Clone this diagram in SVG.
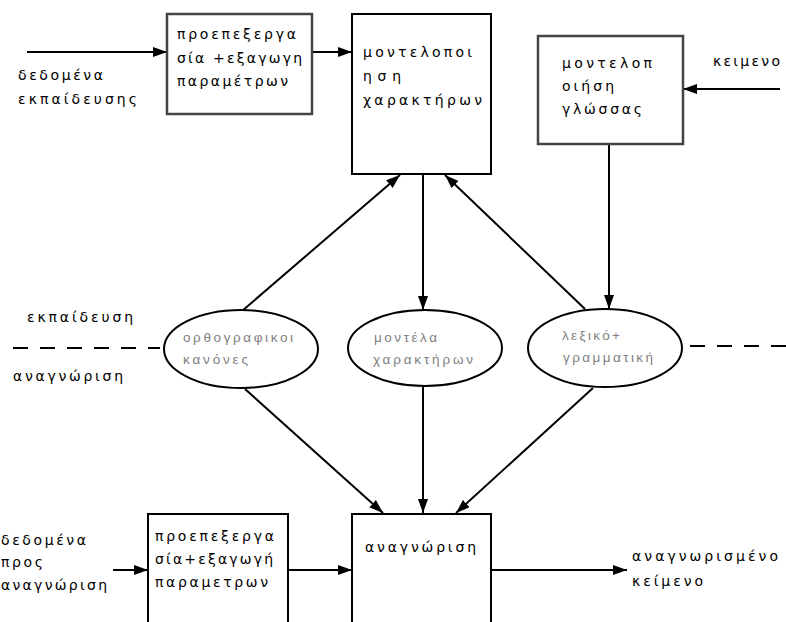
<svg xmlns="http://www.w3.org/2000/svg" width="786" height="622" viewBox="0 0 786 622">
<defs>
<marker id="ah" viewBox="0 0 14 10" refX="14" refY="5" markerWidth="14" markerHeight="10" markerUnits="userSpaceOnUse" orient="auto">
<path d="M0,0 L14,5 L0,10 Z" fill="#000"/>
</marker>
<style>
.t{font-family:"DejaVu Sans","Liberation Sans",sans-serif;font-size:14px;fill:#000}
.e{font-family:"Liberation Sans","DejaVu Sans",sans-serif;font-size:13.5px;fill:#808080}
.b{fill:#fff;stroke:#000;stroke-width:2}
.g{fill:#fff;stroke:#444;stroke-width:2.5}
.el{fill:#fff;stroke:#000;stroke-width:2}
.c{stroke:#000;stroke-width:2;fill:none}
.d{stroke:#000;stroke-width:2;fill:none;stroke-dasharray:15 12}
</style>
</defs>
<rect width="786" height="622" fill="#fff"/>

<g id="connectors">
<line class="c" x1="27" y1="52" x2="167" y2="52" marker-end="url(#ah)"/>
<line class="c" x1="312" y1="52" x2="352" y2="52" marker-end="url(#ah)"/>
<line class="c" x1="780" y1="89" x2="683" y2="89" marker-end="url(#ah)"/>
<line class="c" x1="609" y1="144" x2="609" y2="309" marker-end="url(#ah)"/>
<line class="c" x1="423" y1="174" x2="423" y2="310" marker-end="url(#ah)"/>
<line class="c" x1="242" y1="311" x2="400" y2="175" marker-end="url(#ah)"/>
<line class="c" x1="585" y1="309" x2="445" y2="175" marker-end="url(#ah)"/>
<line class="c" x1="245" y1="389" x2="383" y2="513" marker-end="url(#ah)"/>
<line class="c" x1="423" y1="387" x2="423" y2="513" marker-end="url(#ah)"/>
<line class="c" x1="593" y1="388" x2="456" y2="513" marker-end="url(#ah)"/>
<line class="c" x1="113" y1="570" x2="148" y2="570" marker-end="url(#ah)"/>
<line class="c" x1="288" y1="570" x2="352" y2="570" marker-end="url(#ah)"/>
<line class="c" x1="491" y1="570" x2="627" y2="570" marker-end="url(#ah)"/>
<line class="d" x1="13" y1="348" x2="160" y2="348"/>
<line class="d" x1="690" y1="346" x2="786" y2="346"/>
</g>

<g id="labels">
<text class="t" x="18" y="80" textLength="85" lengthAdjust="spacing">δεδομένα</text>
<text class="t" x="18" y="104" textLength="119" lengthAdjust="spacing">εκπαίδευσης</text>
<text class="t" x="713" y="66" textLength="67" lengthAdjust="spacing">κειμενο</text>
<text class="t" x="27" y="322" textLength="106" lengthAdjust="spacing">εκπαίδευση</text>
<text class="t" x="13" y="381" textLength="110" lengthAdjust="spacing">αναγνώριση</text>
<text class="t" x="1" y="545" textLength="85" lengthAdjust="spacing">δεδομένα</text>
<text class="t" x="1" y="567" textLength="42" lengthAdjust="spacing">προς</text>
<text class="t" x="1" y="590" textLength="106" lengthAdjust="spacing">αναγνώριση</text>
<text class="t" x="632" y="561" textLength="146" lengthAdjust="spacing">αναγνωρισμένο</text>
<text class="t" x="632" y="586" textLength="71" lengthAdjust="spacing">κείμενο</text>
</g>

<g id="preprocess-train">
<rect class="g" x="167" y="14" width="145" height="100"/>
<text class="t" x="177" y="39" textLength="119" lengthAdjust="spacing">προεπεξεργα</text>
<text class="t" x="177" y="63" textLength="125" lengthAdjust="spacing">σία +εξαγωγη</text>
<text class="t" x="177" y="86" textLength="111" lengthAdjust="spacing">παραμέτρων</text>
</g>

<g id="char-modeling">
<rect class="b" x="352" y="14" width="139" height="160"/>
<text class="t" x="363" y="57" textLength="109" lengthAdjust="spacing">μοντελοποι</text>
<text class="t" x="363" y="81" textLength="38" lengthAdjust="spacing">ηση</text>
<text class="t" x="363" y="105" textLength="119" lengthAdjust="spacing">χαρακτήρων</text>
</g>

<g id="lang-modeling">
<rect class="g" x="538" y="36" width="145" height="108"/>
<text class="t" x="562" y="68" textLength="90" lengthAdjust="spacing">μοντελοπ</text>
<text class="t" x="562" y="91" textLength="52" lengthAdjust="spacing">οιήση</text>
<text class="t" x="562" y="114" textLength="80" lengthAdjust="spacing">γλώσσας</text>
</g>

<g id="ortho-rules">
<ellipse class="el" cx="241" cy="349" rx="77" ry="39"/>
<text class="e" x="183" y="342" textLength="110" lengthAdjust="spacing">ορθογραφικοι</text>
<text class="e" x="183" y="364" textLength="65" lengthAdjust="spacing">κανόνες</text>
</g>

<g id="char-models">
<ellipse class="el" cx="425" cy="348" rx="77" ry="38"/>
<text class="e" x="374" y="342" textLength="63" lengthAdjust="spacing">μοντέλα</text>
<text class="e" x="373" y="364" textLength="100" lengthAdjust="spacing">χαρακτήρων</text>
</g>

<g id="lexicon-grammar">
<ellipse class="el" cx="605" cy="348" rx="77" ry="39"/>
<text class="e" x="562" y="340" textLength="58" lengthAdjust="spacing">λεξικό+</text>
<text class="e" x="563" y="362" textLength="90" lengthAdjust="spacing">γραμματική</text>
</g>

<g id="preprocess-recog">
<rect class="b" x="148" y="514" width="140" height="112"/>
<text class="t" x="155" y="541" textLength="119" lengthAdjust="spacing">προεπεξεργα</text>
<text class="t" x="155" y="564" textLength="118" lengthAdjust="spacing">σία+εξαγωγή</text>
<text class="t" x="155" y="587" textLength="113" lengthAdjust="spacing">παραμετρων</text>
</g>

<g id="recognition">
<rect class="b" x="352" y="514" width="139" height="112"/>
<text class="t" x="365" y="552" textLength="111" lengthAdjust="spacing">αναγνώριση</text>
</g>
</svg>
